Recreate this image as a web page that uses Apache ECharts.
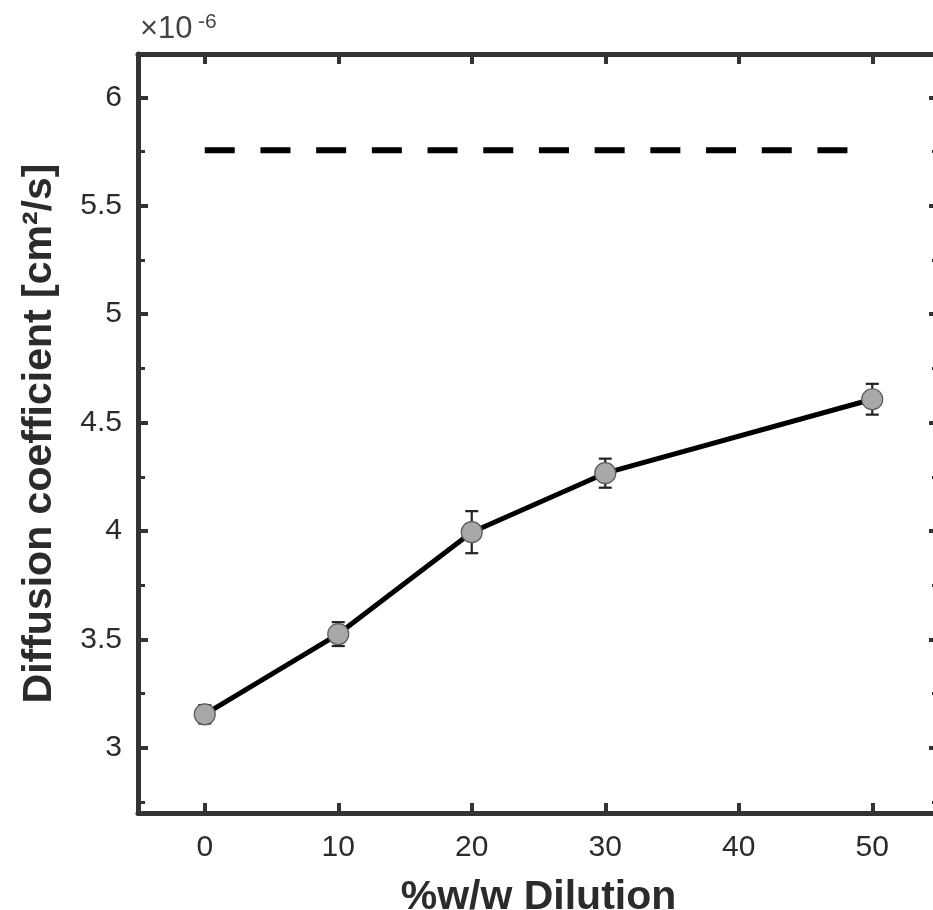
<!DOCTYPE html>
<html>
<head>
<meta charset="utf-8">
<script src="https://cdn.jsdelivr.net/npm/echarts@6/dist/echarts.min.js"></script>
<style>
  html, body { margin: 0; padding: 0; background: #fff; overflow: hidden; }
  #chart { width: 945px; height: 910px; }
</style>
</head>
<body>
<div id="chart"></div>
<script>
// values in units of 1e-6 cm^2/s
var dilution = [0, 10, 20, 30, 50];
var diffusion = [3.155, 3.525, 3.995, 4.267, 4.608];
var errBar = [0.042, 0.055, 0.097, 0.067, 0.071];
var refLevel = 5.756;
var refRange = [0, 50];

var FONT = "'Liberation Sans', Arial, Helvetica, sans-serif";
var AX = '#333';
var TXT = '#2b2b2b';

var lineData = [], errData = [];
for (var i = 0; i < dilution.length; i++) {
  lineData.push([dilution[i], diffusion[i]]);
  errData.push([dilution[i], diffusion[i] - errBar[i], diffusion[i] + errBar[i]]);
}

function hideEnds(min, max) {
  return function(v) {
    if (Math.abs(v - min) < 1e-9 || Math.abs(v - max) < 1e-9) return '';
    return String(+v.toFixed(2));
  };
}

var boxLine = { show: true, onZero: false, lineStyle: { color: AX, width: 5 } };
var majorTick = { show: true, inside: true, length: 10, lineStyle: { color: AX, width: 4 } };
var minorTick = { show: true, splitNumber: 2, length: 7, lineStyle: { color: AX, width: 3 } };

var myChart = echarts.init(document.getElementById('chart'));

var option = {
  backgroundColor: '#fff',
  animation: false,
  textStyle: { fontFamily: FONT },
  // chart is drawn a bit wider than the window so the right frame falls just outside, as in the source
  grid: { left: 138, right: 6, top: 54, bottom: 97, outerBoundsMode: 'none' },
  graphic: [
    { type: 'text', left: 140, top: 14, style: { text: '×10', fontSize: 31, fill: '#444', fontFamily: FONT } },
    { type: 'text', left: 198, top: 12, style: { text: '-6', fontSize: 21, fill: '#444', fontFamily: FONT } }
  ],
  xAxis: [
    {
      type: 'value', min: -5, max: 55, splitNumber: 6, position: 'bottom',
      axisLine: boxLine, axisTick: majorTick, splitLine: { show: false },
      axisLabel: { fontSize: 30, color: TXT, margin: 20, formatter: hideEnds(-5, 55) },
      name: '%w/w Dilution', nameLocation: 'middle', nameGap: 64,
      nameTextStyle: { fontSize: 41, fontWeight: 'bold', color: TXT }
    },
    {
      type: 'value', min: -5, max: 55, splitNumber: 6, position: 'top',
      axisLine: boxLine, axisTick: majorTick, splitLine: { show: false },
      axisLabel: { show: false }
    }
  ],
  yAxis: [
    {
      type: 'value', min: 2.7, max: 6.2, splitNumber: 7, position: 'left',
      axisLine: boxLine, axisTick: majorTick, minorTick: minorTick,
      splitLine: { show: false }, minorSplitLine: { show: false },
      axisLabel: { fontSize: 30, color: TXT, margin: 16, formatter: hideEnds(2.7, 6.2) },
      name: 'Diffusion coefficient [cm²/s]', nameLocation: 'middle', nameGap: 78,
      nameTextStyle: { fontSize: 41, fontWeight: 'bold', color: TXT }
    },
    {
      type: 'value', min: 2.7, max: 6.2, splitNumber: 7, position: 'right',
      axisLine: boxLine, axisTick: majorTick, minorTick: minorTick,
      splitLine: { show: false }, minorSplitLine: { show: false },
      axisLabel: { show: false }
    }
  ],
  series: [
    {
      name: 'reference', type: 'line', z: 2,
      data: [[refRange[0], refLevel], [refRange[1], refLevel]],
      symbol: 'none', silent: true,
      lineStyle: { color: '#000', width: 6, type: [30, 25.7], cap: 'butt' }
    },
    {
      name: 'error', type: 'custom', z: 3,
      data: errData,
      renderItem: function(params, api) {
        var x = api.value(0);
        var lo = api.coord([x, api.value(1)]);
        var hi = api.coord([x, api.value(2)]);
        var w = 6.5;
        var st = { stroke: '#222', lineWidth: 2.2 };
        return {
          type: 'group',
          children: [
            { type: 'line', shape: { x1: hi[0], y1: hi[1], x2: lo[0], y2: lo[1] }, style: st },
            { type: 'line', shape: { x1: hi[0] - w, y1: hi[1], x2: hi[0] + w, y2: hi[1] }, style: st },
            { type: 'line', shape: { x1: lo[0] - w, y1: lo[1], x2: lo[0] + w, y2: lo[1] }, style: st }
          ]
        };
      }
    },
    {
      name: 'D', type: 'line', z: 4,
      data: lineData,
      symbol: 'circle', symbolSize: 21,
      lineStyle: { color: '#000', width: 5 },
      itemStyle: { color: '#a8a8a8', borderColor: '#5a5a5a', borderWidth: 1.2 }
    }
  ]
};

myChart.setOption(option);
</script>
</body>
</html>
